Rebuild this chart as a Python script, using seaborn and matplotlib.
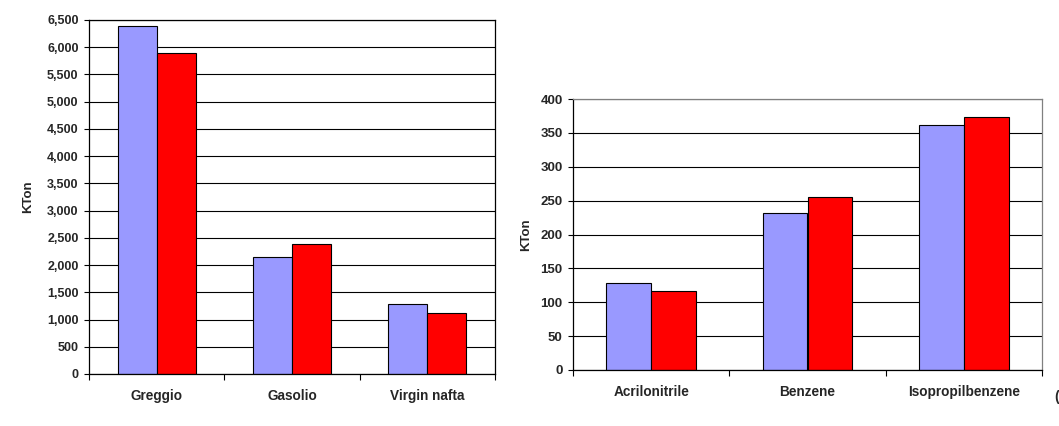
import matplotlib
matplotlib.use("Agg")
import matplotlib.pyplot as plt
import seaborn as sns
import pandas as pd
from matplotlib.ticker import StrMethodFormatter, FixedLocator, MultipleLocator

# ---- data ----
left_categories = ["Greggio", "Gasolio", "Virgin nafta"]
left_series_a = [6385, 2143, 1279]
left_series_b = [5893, 2381, 1126]

right_categories = ["Acrilonitrile", "Benzene", "Isopropilbenzene"]
right_series_a = [128, 232, 361]
right_series_b = [117, 255, 374]

series_names = ["Serie 1", "Serie 2"]
colors = ["#9999FF", "#FF0000"]

sns.set_style("white")
plt.rcParams["font.family"] = ["Liberation Sans", "DejaVu Sans"]
plt.rcParams["font.weight"] = "bold"

W, H = 1059, 426
fig = plt.figure(figsize=(W / 100, H / 100), dpi=100)


def long_df(cats, a, b):
    rows = []
    for c, v in zip(cats, a):
        rows.append({"cat": c, "series": series_names[0], "val": v})
    for c, v in zip(cats, b):
        rows.append({"cat": c, "series": series_names[1], "val": v})
    return pd.DataFrame(rows)


def style_axis(ax, cats, ymax, step, fmt, gray_frame, label_pad, ylabel_x, ytick_fs):
    ax.set_xlim(-0.5, len(cats) - 0.5)
    ax.set_ylim(0, ymax)
    ax.yaxis.set_major_locator(MultipleLocator(step))
    ax.yaxis.set_major_formatter(StrMethodFormatter(fmt))
    ax.set_axisbelow(True)
    ax.grid(axis="y", color="black", linewidth=0.8)
    ax.grid(axis="x", visible=False)
    ax.set_xlabel("")
    ax.set_ylabel("KTon", fontsize=9.5, fontweight="bold")
    ax.yaxis.set_label_coords(ylabel_x, 0.5)
    ax.set_xticks(range(len(cats)))
    ax.set_xticklabels(cats, fontsize=9.8, fontweight="bold")
    ax.xaxis.set_minor_locator(FixedLocator([i - 0.5 for i in range(len(cats) + 1)]))
    ax.tick_params(axis="x", which="major", length=0, pad=label_pad)
    ax.tick_params(axis="x", which="minor", length=4, width=0.8, color="black", direction="out", bottom=True)
    ax.tick_params(axis="y", which="major", length=3.5, width=0.8, color="black", direction="out",
                   left=True, pad=4, labelsize=ytick_fs)
    for lab in ax.get_yticklabels():
        lab.set_fontweight("bold")
    for s in ["left", "bottom"]:
        ax.spines[s].set_color("black")
        ax.spines[s].set_linewidth(0.9)
    for s in ["top", "right"]:
        ax.spines[s].set_visible(True)
        ax.spines[s].set_color("#808080" if gray_frame else "black")
        ax.spines[s].set_linewidth(0.9)


# left chart
ax1 = fig.add_axes([89 / W, (H - 374) / H, 406 / W, 354 / H])
df1 = long_df(left_categories, left_series_a, left_series_b)
sns.barplot(data=df1, x="cat", y="val", hue="series", palette=colors, width=0.575,
            edgecolor="black", linewidth=0.8, saturation=1, legend=False, ax=ax1)
style_axis(ax1, left_categories, 6500, 500, "{x:,.0f}", False, 10.5, -0.136, 9)

# right chart
ax2 = fig.add_axes([573 / W, (H - 370) / H, 469 / W, 271 / H])
df2 = long_df(right_categories, right_series_a, right_series_b)
sns.barplot(data=df2, x="cat", y="val", hue="series", palette=colors, width=0.575,
            edgecolor="black", linewidth=0.8, saturation=1, legend=False, ax=ax2)
style_axis(ax2, right_categories, 400, 50, "{x:.0f}", True, 10.5, -0.088, 9.5)

fig.text(1054 / W, (H - 397) / H, "(", fontsize=10, fontweight="bold", va="center", ha="left")

fig.savefig("out.png", dpi=100, facecolor="white")
